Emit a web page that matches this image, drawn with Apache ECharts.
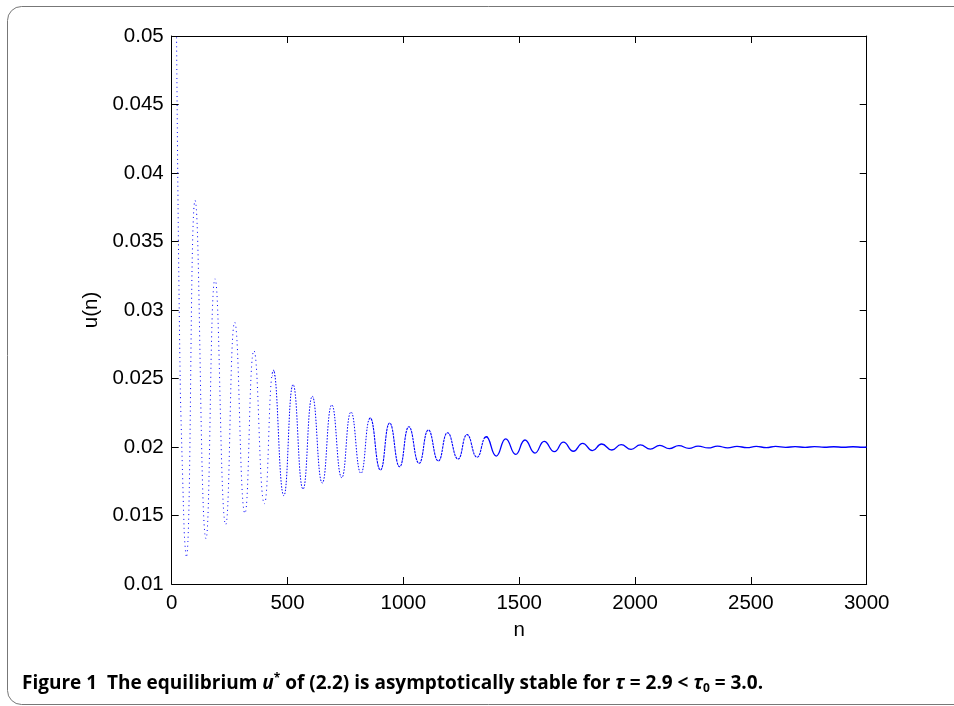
<!DOCTYPE html>
<html><head><meta charset="utf-8">
<script src="https://cdn.jsdelivr.net/npm/echarts@6/dist/echarts.min.js"></script>
<style>html,body{margin:0;padding:0;background:#fff}#c{width:954px;height:706px}</style>
</head><body><div id="c"></div>
<script>
// early descent, read dot by dot
const earlyN = [21, 22, 23, 24, 25, 26, 27, 28, 29, 30, 31, 32, 33, 34, 35, 36, 37, 38, 49, 52, 56];
const earlyU = [0.0499, 0.0478, 0.04574, 0.0438, 0.04187, 0.04002, 0.03832, 0.03664, 0.03504, 0.03355,
  0.0321, 0.0307, 0.0293, 0.0280, 0.0268, 0.0257, 0.0245, 0.0235, 0.0167, 0.0149, 0.0132];
// oscillation maxima
const peakN = [101, 187, 272, 355, 439, 524, 607, 691, 774, 857, 941, 1024, 1108, 1191, 1275, 1358, 1442,
  1525, 1608, 1691, 1774, 1856, 1940, 2023, 2107, 2189, 2272, 2356, 2440, 2523, 2607, 2691, 2774, 2858, 2941];
const peakU = [0.0380, 0.03228, 0.0291, 0.02703, 0.0256, 0.02455, 0.0237, 0.02307, 0.02255, 0.02212, 0.02175,
  0.02148, 0.02124, 0.02104, 0.0209, 0.02075, 0.0206, 0.02051, 0.02041, 0.02036, 0.02027, 0.02022, 0.02017,
  0.02015, 0.02012, 0.0201, 0.02007, 0.02006, 0.02005, 0.02004, 0.02004, 0.02003, 0.02003, 0.02002, 0.02002];
// oscillation minima
const troughN = [63, 148, 233, 316, 400, 484, 567, 650, 734, 817, 901, 984, 1068, 1151, 1236, 1318, 1401,
  1485, 1568, 1652, 1734, 1816, 1900, 1983, 2066, 2148, 2233, 2316, 2400, 2483, 2567, 2650, 2734, 2817, 2900, 2984];
const troughU = [0.01195, 0.01331, 0.01433, 0.01516, 0.01586, 0.01645, 0.01693, 0.01737, 0.01776, 0.01808,
  0.01832, 0.01856, 0.01881, 0.01898, 0.01912, 0.01925, 0.01934, 0.01946, 0.01956, 0.01966, 0.01969, 0.01973,
  0.01978, 0.01983, 0.01985, 0.01988, 0.0199, 0.01993, 0.01994, 0.01995, 0.01996, 0.01997, 0.01997, 0.01998,
  0.01998, 0.01998];
const endN = [3000];
const endU = [0.0200];

const xTickLabels = ['0', '500', '1000', '1500', '2000', '2500', '3000'];
const yTickLabels = ['0.01', '0.015', '0.02', '0.025', '0.03', '0.035', '0.04', '0.045', '0.05'];

let pts = [];
const add = (ns, us) => ns.forEach((n, i) => pts.push([n, us[i]]));
add(earlyN, earlyU); add(peakN, peakU); add(troughN, troughU); add(endN, endU);
pts.sort((a, b) => a[0] - b[0]);

const X_MIN = 0, X_MAX = 3000, Y_MIN = 0.01, Y_MAX = 0.05;
const G = { left: 171.7, right: 87.3, top: 36, bottom: 122 };
const PW = 954 - G.left - G.right;

// line-style bands (dot density grows as the swings shrink)
const bands = [
  { lo: X_MIN, hi: peakN[4], style: { width: 1, type: [1, 3.5] } },
  { lo: peakN[4], hi: peakN[9], style: { width: 1, type: [1.5, 1.5] } },
  { lo: peakN[9], hi: peakN[15], style: { width: 1.1, type: [2.5, 0.8] } },
  { lo: peakN[15], hi: X_MAX, style: { width: 1.3, type: 'solid' } }
];

const FONT = 'Liberation Sans';
const FS = 20.5;
const xLab = v => { const i = Math.round(v / 500); return xTickLabels[i] !== undefined ? xTickLabels[i] : ''; };
const yLab = v => { const i = Math.round((v - 0.01) / 0.005); return yTickLabels[i] !== undefined ? yTickLabels[i] : ''; };

const axisCommon = {
  axisLine: { show: true, onZero: false, lineStyle: { color: '#000', width: 1 } },
  axisTick: { show: true, inside: true, length: 7, lineStyle: { color: '#000', width: 1 } },
  splitLine: { show: false }
};

const grids = [Object.assign({ containLabel: false, outerBoundsMode: 'none', z: 1 }, G)];
const xAxes = [
  Object.assign({ type: 'value', gridIndex: 0, position: 'bottom', min: X_MIN, max: X_MAX, interval: 500,
    axisLabel: { show: true, formatter: xLab, color: '#000', fontFamily: FONT, fontSize: FS, margin: 9 },
    name: 'n', nameLocation: 'middle', nameGap: 36,
    nameTextStyle: { color: '#000', fontFamily: FONT, fontSize: FS } }, axisCommon),
  Object.assign({ type: 'value', gridIndex: 0, position: 'top', min: X_MIN, max: X_MAX, interval: 500,
    axisLabel: { show: false } }, axisCommon)
];
const yAxes = [
  Object.assign({ type: 'value', gridIndex: 0, position: 'left', min: Y_MIN, max: Y_MAX, interval: 0.005,
    axisLabel: { show: true, formatter: yLab, color: '#000', fontFamily: FONT, fontSize: FS, margin: 8 },
    name: 'u(n)', nameLocation: 'middle', nameGap: 68, nameRotate: 90,
    nameTextStyle: { color: '#000', fontFamily: FONT, fontSize: FS } }, axisCommon),
  Object.assign({ type: 'value', gridIndex: 0, position: 'right', min: Y_MIN, max: Y_MAX, interval: 0.005,
    axisLabel: { show: false } }, axisCommon)
];
const series = [];
bands.forEach((b, k) => {
  const gi = k + 1;
  grids.push({ containLabel: false, outerBoundsMode: 'none', top: G.top, bottom: G.bottom,
    left: G.left + PW * (b.lo - X_MIN) / (X_MAX - X_MIN),
    right: 954 - (G.left + PW * (b.hi - X_MIN) / (X_MAX - X_MIN)) });
  xAxes.push({ type: 'value', gridIndex: gi, min: b.lo, max: b.hi, show: false, splitLine: { show: false } });
  yAxes.push({ type: 'value', gridIndex: gi, min: Y_MIN, max: Y_MAX, show: false, splitLine: { show: false } });
  series.push({ type: 'line', xAxisIndex: xAxes.length - 1, yAxisIndex: yAxes.length - 1, data: pts,
    smooth: 0.5, showSymbol: false, clip: true, z: 2,
    lineStyle: Object.assign({ color: '#0000ff' }, b.style) });
});

const chart = echarts.init(document.getElementById('c'), null, { renderer: 'canvas' });
const capStyle = { fontFamily: 'Open Sans', fontWeight: 'bold', fontSize: 19, lineHeight: 22, color: '#000' };
chart.setOption({
  animation: false,
  backgroundColor: '#fff',
  grid: grids,
  xAxis: xAxes,
  yAxis: yAxes,
  series: series,
  graphic: [
    { type: 'rect', silent: true, shape: { x: 7.5, y: 6.5, width: 990, height: 698, r: 14 },
      style: { fill: 'none', stroke: '#777', lineWidth: 1 } },
    { type: 'text', left: 22, top: 673, silent: true,
      style: {
        text: '{b|Figure 1  The equilibrium }{bi|u}{sup|*}{b| of (2.2) is asymptotically stable for }{bi|τ}{b| = 2.9 < }{bi|τ}{sub|0}{b| = 3.0.}',
        rich: {
          b: capStyle,
          bi: Object.assign({}, capStyle, { fontStyle: 'italic' }),
          sup: Object.assign({}, capStyle, { fontSize: 12, lineHeight: 12, verticalAlign: 'top' }),
          sub: Object.assign({}, capStyle, { fontSize: 12, lineHeight: 12, verticalAlign: 'bottom' })
        }
      } }
  ]
});
</script></body></html>
